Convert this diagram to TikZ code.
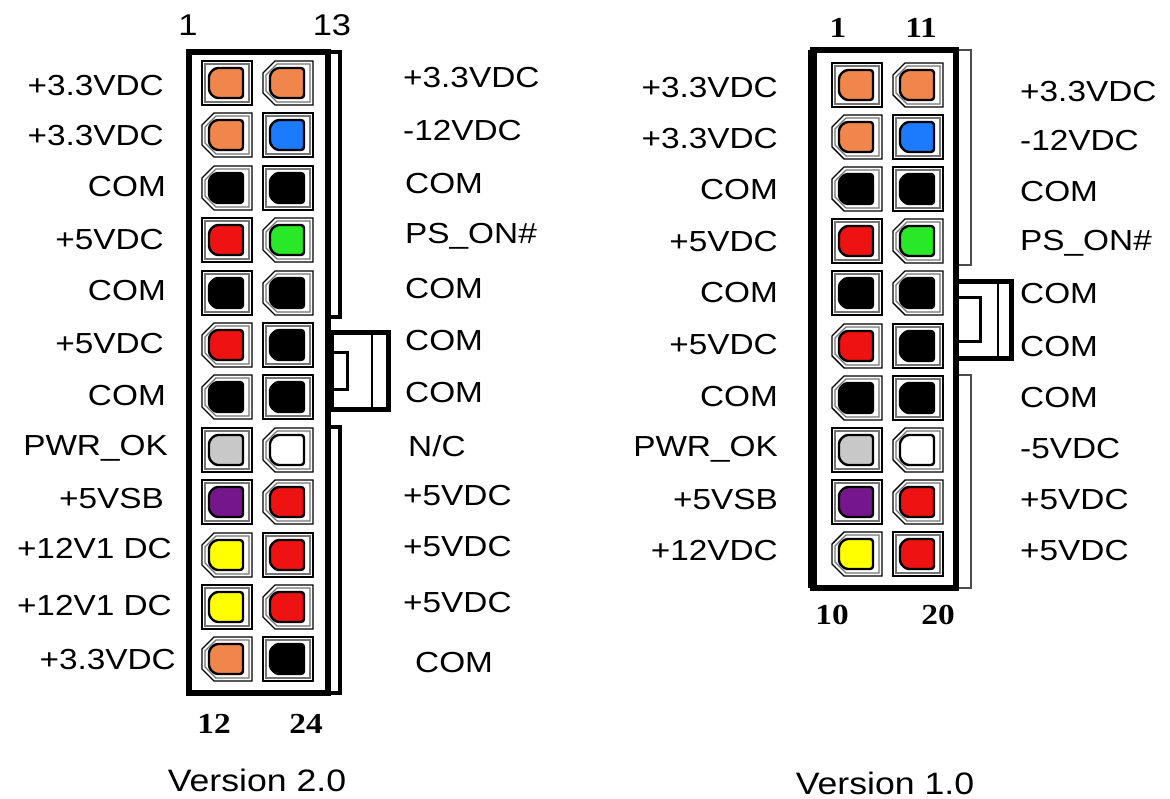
\documentclass[tikz,border=0pt]{standalone}
\usepackage{graphicx}
\usepackage{fontspec}
\setmainfont{Liberation Serif}
\setsansfont{Liberation Sans}
\usepackage{tikz}
\usetikzlibrary{calc,positioning}
\definecolor{pinorange}{RGB}{240,134,76}
\definecolor{pinblue}{RGB}{28,122,252}
\definecolor{pingreen}{RGB}{40,232,40}
\definecolor{pinred}{RGB}{238,18,18}
\definecolor{pinpurple}{RGB}{118,22,140}
\definecolor{pinyellow}{RGB}{255,255,0}
\definecolor{pingrey}{RGB}{200,200,200}
\newcommand{\wtxt}[1]{\scalebox{1.15}[1]{#1}}
\tikzset{
    pinframe/.style={
    draw=black,line width=1.4pt,fill=white
    },
    pinrim/.style={
    draw=black!55,line width=1.2pt
    },
    pinface/.style={
    draw=black,line width=2.4pt,rounded corners=3pt
    },
    housing/.style={
    draw=black,line width=5.5pt
    },
    strip/.style={
    draw=black,line width=4pt
    },
    thinstrip/.style={
    draw=black!70,line width=1.6pt
    },
    wire/.style={
    font=\fontsize{29}{32}\sffamily,inner sep=0pt
    },
    pinno/.style={
    font=\fontsize{29}{32}\rmfamily\bfseries,inner sep=0pt
    },
    pinnosans/.style={
    font=\fontsize{30}{32}\sffamily,inner sep=0pt
    },
    version/.style={
    font=\fontsize{31}{34}\sffamily,inner sep=0pt
    },
}
\newcommand{\pin}[4]{%
  \begin{scope}[shift={(#1,#2)}]
    \ifnum#4=1
      \draw[pinframe] (-13,-22) -- (25,-22) -- (25,22) -- (-13,22) -- (-25,10) -- (-25,-10) -- cycle;
      \draw[pinrim] (-11,-19) -- (22,-19) -- (22,19) -- (-11,19) -- (-22,8) -- (-22,-8) -- cycle;
    \else
      \draw[pinframe] (-25,-22) rectangle (25,22);
      \draw[pinrim] (-22,-19) rectangle (22,19);
    \fi
    \draw[pinface,fill=#3] (-12,-15) -- (16,-15) -- (16,15) -- (-12,15) -- (-18,9) -- (-18,-9) -- cycle;
  \end{scope}}
\begin{document}
\begin{tikzpicture}[x=1pt,y=-1pt]
   \useasboundingbox[fill=white] (0,0) rectangle (1170,799);

   % version 2.0
   \draw[line width=5pt,fill=white] (331,333) rectangle (388,410);
   \draw[line width=2pt] (372,333) -- (372,410);
   \draw[line width=3pt] (331,353) rectangle (347,390);
   \draw[strip] (328,52) -- (340,52) -- (340,317) -- (328,317);
   \draw[strip] (328,427) -- (340,427) -- (340,693) -- (328,693);
   \draw[housing] (189,52) rectangle (328,693);

   \pin{227}{83}{pinorange}{0}   \pin{288}{83}{pinorange}{1}
   \pin{227}{135}{pinorange}{1}  \pin{288}{135}{pinblue}{0}
   \pin{227}{188}{black}{1}      \pin{288}{188}{black}{0}
   \pin{227}{240}{pinred}{0}     \pin{288}{240}{pingreen}{1}
   \pin{227}{293}{black}{0}      \pin{288}{293}{black}{1}
   \pin{227}{345}{pinred}{1}     \pin{288}{345}{black}{0}
   \pin{227}{397}{black}{1}      \pin{288}{397}{black}{0}
   \pin{227}{450}{pingrey}{0}    \pin{288}{450}{white}{1}
   \pin{227}{502}{pinpurple}{0}  \pin{288}{502}{pinred}{1}
   \pin{227}{555}{pinyellow}{1}  \pin{288}{555}{pinred}{0}
   \pin{227}{607}{pinyellow}{0}  \pin{288}{607}{pinred}{1}
   \pin{227}{659}{pinorange}{1}  \pin{288}{659}{black}{0}

   \node[pinnosans] (n1) at (188,25) {\wtxt{1}};
   \node[pinnosans] (n13) at (332,25) {\wtxt{13}};
   \node[pinno] (n12) at (214,724) {\wtxt{12}};
   \node[pinno] (n24) at (306,724) {\wtxt{24}};

   \node[wire,anchor=east] (a1) at (164,86) {\wtxt{+3.3VDC}};
   \node[wire,anchor=east] (a2) at (164,136) {\wtxt{+3.3VDC}};
   \node[wire,anchor=east] (a3) at (166,187) {\wtxt{COM}};
   \node[wire,anchor=east] (a4) at (164,240) {\wtxt{+5VDC}};
   \node[wire,anchor=east] (a5) at (166,291) {\wtxt{COM}};
   \node[wire,anchor=east] (a6) at (164,344) {\wtxt{+5VDC}};
   \node[wire,anchor=east] (a7) at (166,396) {\wtxt{COM}};
   \node[wire,anchor=east] (a8) at (168,448) {\wtxt{PWR\_OK}};
   \node[wire,anchor=east] (a9) at (164,499) {\wtxt{+5VSB}};
   \node[wire,anchor=east] (a10) at (172,549) {\wtxt{+12V1 DC}};
   \node[wire,anchor=east] (a11) at (172,606) {\wtxt{+12V1 DC}};
   \node[wire,anchor=east] (a12) at (176,660) {\wtxt{+3.3VDC}};

   \node[wire,anchor=west] (b1) at (403,78) {\wtxt{+3.3VDC}};
   \node[wire,anchor=west] (b2) at (403,131) {\wtxt{-12VDC}};
   \node[wire,anchor=west] (b3) at (405,184) {\wtxt{COM}};
   \node[wire,anchor=west] (b4) at (405,236) {\wtxt{PS\_ON\#}};
   \node[wire,anchor=west] (b5) at (405,289) {\wtxt{COM}};
   \node[wire,anchor=west] (b6) at (405,341) {\wtxt{COM}};
   \node[wire,anchor=west] (b7) at (405,393) {\wtxt{COM}};
   \node[wire,anchor=west] (b8) at (408,446) {\wtxt{N/C}};
   \node[wire,anchor=west] (b9) at (403,496) {\wtxt{+5VDC}};
   \node[wire,anchor=west] (b10) at (403,547) {\wtxt{+5VDC}};
   \node[wire,anchor=west] (b11) at (403,603) {\wtxt{+5VDC}};
   \node[wire,anchor=west] (b12) at (415,663) {\wtxt{COM}};

   \node[version] (v2) at (257,780) {\wtxt{Version 2.0}};

   % version 1.0
   \draw[line width=5pt,fill=white] (956,282) rectangle (1011,359);
   \draw[line width=2pt] (998,282) -- (998,359);
   \draw[line width=3pt] (956,298) rectangle (980,342);
   \draw[thinstrip] (956,50) -- (971,50) -- (971,265) -- (956,265);
   \draw[thinstrip] (956,375) -- (971,375) -- (971,588) -- (956,588);
   \draw[housing] (813,50) rectangle (956,588);
   \draw[line width=9pt] (812,50) -- (812,588);

   \pin{857}{85}{pinorange}{0}   \pin{918}{85}{pinorange}{1}
   \pin{857}{137}{pinorange}{1}  \pin{918}{137}{pinblue}{0}
   \pin{857}{189}{black}{1}      \pin{918}{189}{black}{0}
   \pin{857}{241}{pinred}{0}     \pin{918}{241}{pingreen}{1}
   \pin{857}{293}{black}{0}      \pin{918}{293}{black}{1}
   \pin{857}{346}{pinred}{1}     \pin{918}{346}{black}{0}
   \pin{857}{398}{black}{1}      \pin{918}{398}{black}{0}
   \pin{857}{450}{pingrey}{0}    \pin{918}{450}{white}{1}
   \pin{857}{502}{pinpurple}{0}  \pin{918}{502}{pinred}{1}
   \pin{857}{554}{pinyellow}{1}  \pin{918}{554}{pinred}{0}

   \node[pinno] (m1) at (838,28) {\wtxt{1}};
   \node[pinno] (m11) at (921,28) {\wtxt{11}};
   \node[pinno] (m10) at (832,615) {\wtxt{10}};
   \node[pinno] (m20) at (938,615) {\wtxt{20}};

   \node[wire,anchor=east] (c1) at (778,88) {\wtxt{+3.3VDC}};
   \node[wire,anchor=east] (c2) at (778,139) {\wtxt{+3.3VDC}};
   \node[wire,anchor=east] (c3) at (778,190) {\wtxt{COM}};
   \node[wire,anchor=east] (c4) at (778,242) {\wtxt{+5VDC}};
   \node[wire,anchor=east] (c5) at (778,293) {\wtxt{COM}};
   \node[wire,anchor=east] (c6) at (778,345) {\wtxt{+5VDC}};
   \node[wire,anchor=east] (c7) at (778,397) {\wtxt{COM}};
   \node[wire,anchor=east] (c8) at (778,449) {\wtxt{PWR\_OK}};
   \node[wire,anchor=east] (c9) at (778,500) {\wtxt{+5VSB}};
   \node[wire,anchor=east] (c10) at (778,551) {\wtxt{+12VDC}};

   \node[wire,anchor=west] (d1) at (1020,92) {\wtxt{+3.3VDC}};
   \node[wire,anchor=west] (d2) at (1020,141) {\wtxt{-12VDC}};
   \node[wire,anchor=west] (d3) at (1020,192) {\wtxt{COM}};
   \node[wire,anchor=west] (d4) at (1020,243) {\wtxt{PS\_ON\#}};
   \node[wire,anchor=west] (d5) at (1020,294) {\wtxt{COM}};
   \node[wire,anchor=west] (d6) at (1020,347) {\wtxt{COM}};
   \node[wire,anchor=west] (d7) at (1020,398) {\wtxt{COM}};
   \node[wire,anchor=west] (d8) at (1020,449) {\wtxt{-5VDC}};
   \node[wire,anchor=west] (d9) at (1020,500) {\wtxt{+5VDC}};
   \node[wire,anchor=west] (d10) at (1020,551) {\wtxt{+5VDC}};

   \node[version] (v1) at (885,783) {\wtxt{Version 1.0}};
\end{tikzpicture}
\end{document}
